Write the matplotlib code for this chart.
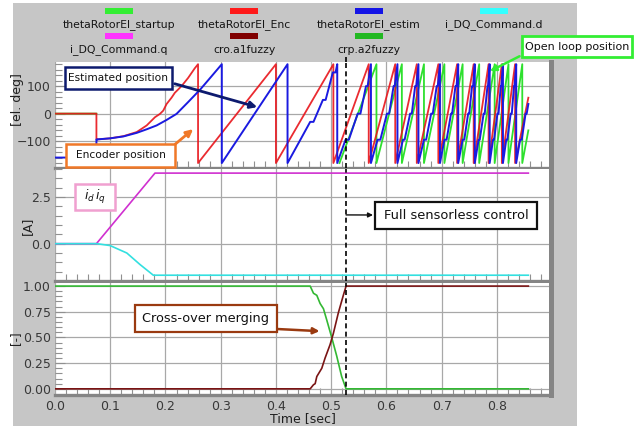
import numpy as np
import matplotlib.pyplot as plt
from matplotlib.patches import Rectangle

W, H = 636, 426

# ---------------- data ----------------
# encoder angle [el. deg]: startup curve, then wrap instants of the sawtooth
enc_head_t = [0.0, 0.075, 0.075, 0.0755, 0.0996, 0.124, 0.148, 0.166, 0.175, 0.181,
              0.190, 0.196, 0.202, 0.211, 0.217, 0.229, 0.241, 0.253, 0.259]
enc_head_deg = [0, 0, -94, -94, -90, -82, -67, -43, -25, -13,
                -1, 11, 35, 58, 76, 100, 130, 165, 180]
enc_wrap_t = [0.259, 0.400, 0.504, 0.568, 0.616, 0.655, 0.694, 0.728, 0.758,
              0.785, 0.809, 0.833]
enc_end = (0.857, 58)

# estimated angle [el. deg] (quantised steps once the observer takes over)
est_t = [0.0, 0.075, 0.075, 0.0755, 0.100, 0.124, 0.148, 0.166, 0.184, 0.202,
         0.220, 0.241, 0.263, 0.283, 0.302,
         0.302, 0.421,
         0.421, 0.444, 0.462, 0.468, 0.485, 0.490, 0.503, 0.508, 0.511,
         0.511, 0.526, 0.532, 0.548, 0.553, 0.563, 0.566, 0.572,
         0.572, 0.584, 0.589, 0.601, 0.605, 0.613, 0.615, 0.620,
         0.620, 0.630, 0.633, 0.643, 0.646, 0.652, 0.654, 0.658,
         0.658, 0.668, 0.672, 0.681, 0.684, 0.691, 0.693, 0.697,
         0.697, 0.705, 0.709, 0.717, 0.719, 0.725, 0.727, 0.730,
         0.730, 0.738, 0.741, 0.748, 0.750, 0.755, 0.757, 0.760,
         0.760, 0.767, 0.769, 0.776, 0.778, 0.783, 0.784, 0.787,
         0.787, 0.793, 0.795, 0.801, 0.803, 0.807, 0.808, 0.811,
         0.811, 0.817, 0.819, 0.825, 0.827, 0.831, 0.832, 0.835,
         0.835, 0.842, 0.845, 0.852, 0.854, 0.857]
est_deg = [-160, -160, -94, -94, -90, -83, -70, -57, -43, -23,
           -1, 42, 88, 135, 180,
           -180, 180,
           -180, -96, -30, -30, 50, 50, 150, 150, 180,
           -180, -95, -95, 0, 0, 100, 100, 180,
           -180, -95, -95, 0, 0, 100, 100, 180,
           -180, -95, -95, 0, 0, 100, 100, 180,
           -180, -95, -95, 0, 0, 100, 100, 180,
           -180, -95, -95, 0, 0, 100, 100, 180,
           -180, -95, -95, 0, 0, 100, 100, 180,
           -180, -95, -95, 0, 0, 100, 100, 180,
           -180, -95, -95, 0, 0, 100, 100, 180,
           -180, -95, -95, 0, 0, 100, 100, 180,
           -180, -95, -95, 0, 0, 35]

# open-loop (startup) angle [el. deg]
startup_head_t = [0.0, 0.075]
startup_head_deg = [0, 0]
startup_wrap_t = [0.515, 0.582, 0.628, 0.668, 0.705, 0.738, 0.768, 0.796, 0.821, 0.846]
startup_end = (0.857, -61)

# dq current commands [A]
iq_t = [0.0, 0.075, 0.181, 0.857]
iq_a = [0.0, 0.0, 3.78, 3.78]
id_t = [0.0, 0.0755, 0.0996, 0.130, 0.154, 0.178, 0.857]
id_a = [0.0, 0.0, -0.10, -0.50, -1.12, -1.69, -1.69]

# fuzzy cross-over weights [-]
a2_t = [0.0, 0.462, 0.468, 0.474, 0.480, 0.486, 0.492, 0.501, 0.510, 0.519, 0.527, 0.857]
a2_v = [1.0, 1.0, 0.93, 0.91, 0.83, 0.78, 0.67, 0.50, 0.32, 0.12, 0.0, 0.0]
a1_t = [0.0, 0.462, 0.468, 0.471, 0.474, 0.483, 0.489, 0.498, 0.504, 0.513, 0.522, 0.527, 0.857]
a1_v = [0.0, 0.0, 0.04, 0.05, 0.12, 0.20, 0.30, 0.43, 0.54, 0.74, 0.91, 1.0, 1.0]

t_switch = 0.527

legend_labels = ['thetaRotorEl_startup', 'thetaRotorEl_Enc', 'thetaRotorEl_estim',
                 'i_DQ_Command.d', 'i_DQ_Command.q', 'cro.a1fuzzy', 'crp.a2fuzzy']
legend_colors = ['#33ee33', '#ff1a1a', '#1414e6', '#33ffff', '#ff33ff', '#800000', '#22b822']

c_start, c_enc, c_est = '#2ee02e', '#e8141a', '#1a1ae0'
c_id, c_iq, c_a1, c_a2 = '#33e0e0', '#d030d0', '#7a1414', '#33b833'


def sawtooth(head_t, head_deg, wraps, end):
    t, d = list(head_t), list(head_deg)
    for a, b in zip(wraps[:-1], wraps[1:]):
        t += [a, b]
        d += [-180, 180]
    t += [wraps[-1], end[0]]
    d += [-180, end[1]]
    return t, d


def px(x, y):
    return x / W, 1 - y / H


fig = plt.figure(figsize=(W / 100, H / 100), dpi=100)
fig.patches.append(Rectangle(px(13, 426), 564 / W, 423 / H, transform=fig.transFigure,
                             facecolor='#c6c6c6', edgecolor='none', zorder=-10))

left, width = 55 / W, 496 / W
ax1 = fig.add_axes([left, 1 - 168 / H, width, 106 / H])
ax2 = fig.add_axes([left, 1 - 281 / H, width, 112 / H])
ax3 = fig.add_axes([left, 1 - 395 / H, width, 112 / H])

for ax in (ax1, ax2, ax3):
    ax.set_facecolor('white')
    ax.set_xlim(0, 0.898)
    ax.set_xticks(np.arange(0, 0.85, 0.1))
    ax.set_xticks(np.arange(0, 0.9, 0.02), minor=True)
    ax.grid(True, which='major', color='#a8a8a8', lw=0.9)
    for s in ('top', 'left'):
        ax.spines[s].set_visible(False)
    ax.spines['bottom'].set_color('#858585')
    ax.spines['bottom'].set_linewidth(2.4)
    ax.spines['right'].set_color('#858585')
    ax.spines['right'].set_linewidth(3.6)
    ax.tick_params(axis='x', which='both', direction='in', color='#909090',
                   labelsize=9, labelcolor='#383838')
    ax.tick_params(axis='x', which='major', length=0)
    ax.tick_params(axis='x', which='minor', length=5, width=0.8)
    ax.tick_params(axis='y', which='both', direction='in', color='#909090',
                   labelsize=9, labelcolor='#383838', pad=3)
    ax.tick_params(axis='y', which='major', length=7, width=0.8)
    ax.tick_params(axis='y', which='minor', length=5, width=0.8)
    ax.axvline(t_switch, color='black', ls=(0, (3, 2)), lw=1.2, zorder=5)

ax1.tick_params(axis='x', labelbottom=False)
ax2.tick_params(axis='x', labelbottom=False)

# angles
st_t, st_d = sawtooth(startup_head_t, startup_head_deg, startup_wrap_t, startup_end)
st_t = st_t[:2] + [np.nan] + st_t[2:]
st_d = st_d[:2] + [np.nan] + st_d[2:]
ax1.plot(st_t, st_d, color=c_start, lw=1.3)
en_t, en_d = sawtooth(enc_head_t, enc_head_deg, enc_wrap_t, enc_end)
ax1.plot(en_t, en_d, color=c_enc, lw=1.3, alpha=0.9)
ax1.plot(est_t, est_deg, color=c_est, lw=1.4)
ax1.set_ylim(-198, 188)
ax1.set_yticks([-100, 0, 100])
ax1.set_yticks(np.arange(-180, 181, 20), minor=True)
ax1.plot([t_switch, t_switch], [188, 213], color='black', ls=(0, (3, 2)), lw=1.2,
         clip_on=False)

# currents
ax2.plot(iq_t, iq_a, color=c_iq, lw=1.2)
ax2.plot(id_t, id_a, color=c_id, lw=1.2)
ax2.set_ylim(-2.0, 4.0)
ax2.set_yticks([0.0, 2.5])
ax2.set_yticklabels(['0.0', '2.5'])
ax2.set_yticks(np.arange(-2.0, 4.01, 0.5), minor=True)

# fuzzy weights
ax3.plot(a2_t, a2_v, color=c_a2, lw=1.2)
ax3.plot(a1_t, a1_v, color=c_a1, lw=1.2)
ax3.set_ylim(-0.06, 1.03)
ax3.set_yticks([0.0, 0.25, 0.5, 0.75, 1.0])
ax3.set_yticklabels(['0.00', '0.25', '0.50', '0.75', '1.00'])
ax3.set_yticks(np.arange(0, 1.01, 0.05), minor=True)
ax3.set_xticklabels(['0.0', '0.1', '0.2', '0.3', '0.4', '0.5', '0.6', '0.7', '0.8'])

# axis labels
fig.text(*px(303, 419), 'Time [sec]', ha='center', va='center', fontsize=9, color='#202020')
fig.text(*px(18, 100), '[el. deg]', ha='center', va='center', rotation=90, fontsize=9,
         color='#202020')
fig.text(*px(27, 226), '[A]', ha='center', va='center', rotation=90, fontsize=9,
         color='#202020')
fig.text(*px(16, 338), '[-]', ha='center', va='center', rotation=90, fontsize=8.5,
         color='#202020')

# legend strip
col_x = [119, 244, 369, 494]
for i, (lab, col) in enumerate(zip(legend_labels, legend_colors)):
    r, c = divmod(i, 4)
    cx = col_x[c]
    py = 11 + 25 * r
    fig.patches.append(Rectangle(px(cx - 14, py + 3), 28 / W, 6 / H, transform=fig.transFigure,
                                 facecolor=col, edgecolor='none'))
    fig.text(*px(cx, py + 14), lab, ha='center', va='center', fontsize=7.8, color='#151515')


def text_box(x0, y0, x1, y1, text, edge, lw, size, **kw):
    fig.patches.append(Rectangle(px(x0, y1), (x1 - x0) / W, (y1 - y0) / H,
                                 transform=fig.transFigure, facecolor='white',
                                 edgecolor=edge, lw=lw, zorder=20))
    fig.text(*px((x0 + x1) / 2, (y0 + y1) / 2), text, ha='center', va='center',
             fontsize=size, color='#111111', zorder=21, **kw)


text_box(65, 67, 172, 89, 'Estimated position', '#0d1a6e', 1.8, 7.7)
text_box(66, 144, 175, 167, 'Encoder position', '#f07828', 1.8, 7.7)
text_box(522, 36, 632, 57, 'Open loop position', '#33ee33', 2.0, 8)
text_box(375, 202, 537, 229, 'Full sensorless control', '#111111', 1.6, 9.4)
text_box(135, 305, 277, 332, 'Cross-over merging', '#9a3a10', 1.6, 9.3)
text_box(75, 184, 115, 210, r'$i_d\,i_q$', '#f0a0d0', 1.8, 9)

arrow_kw = dict(textcoords='figure fraction', xycoords='data', annotation_clip=False)
ax1.annotate('', xy=(0.371, 21), xytext=px(172, 83),
             arrowprops=dict(arrowstyle='-|>', color='#0d1a6e', lw=2.0, mutation_scale=10),
             **arrow_kw)
ax1.annotate('', xy=(0.254, -50), xytext=px(173, 146),
             arrowprops=dict(arrowstyle='-|>', color='#f07828', lw=2.0, mutation_scale=10),
             **arrow_kw)
ax1.annotate('', xy=(0.783, 150), xytext=px(522, 55),
             arrowprops=dict(arrowstyle='-|>', color='#33ee33', lw=1.8, mutation_scale=9),
             **arrow_kw)
ax2.annotate('', xy=(0.527, 1.54), xytext=px(373, 215),
             arrowprops=dict(arrowstyle='<|-', color='#111111', lw=1.0, mutation_scale=7,
                             shrinkA=0, shrinkB=0),
             **arrow_kw)
ax3.annotate('', xy=(0.484, 0.56), xytext=px(277, 329),
             arrowprops=dict(arrowstyle='-|>', color='#9a3a10', lw=1.8, mutation_scale=9,
                             shrinkA=0),
             **arrow_kw)

fig.savefig('out.png', dpi=100, facecolor='white')
